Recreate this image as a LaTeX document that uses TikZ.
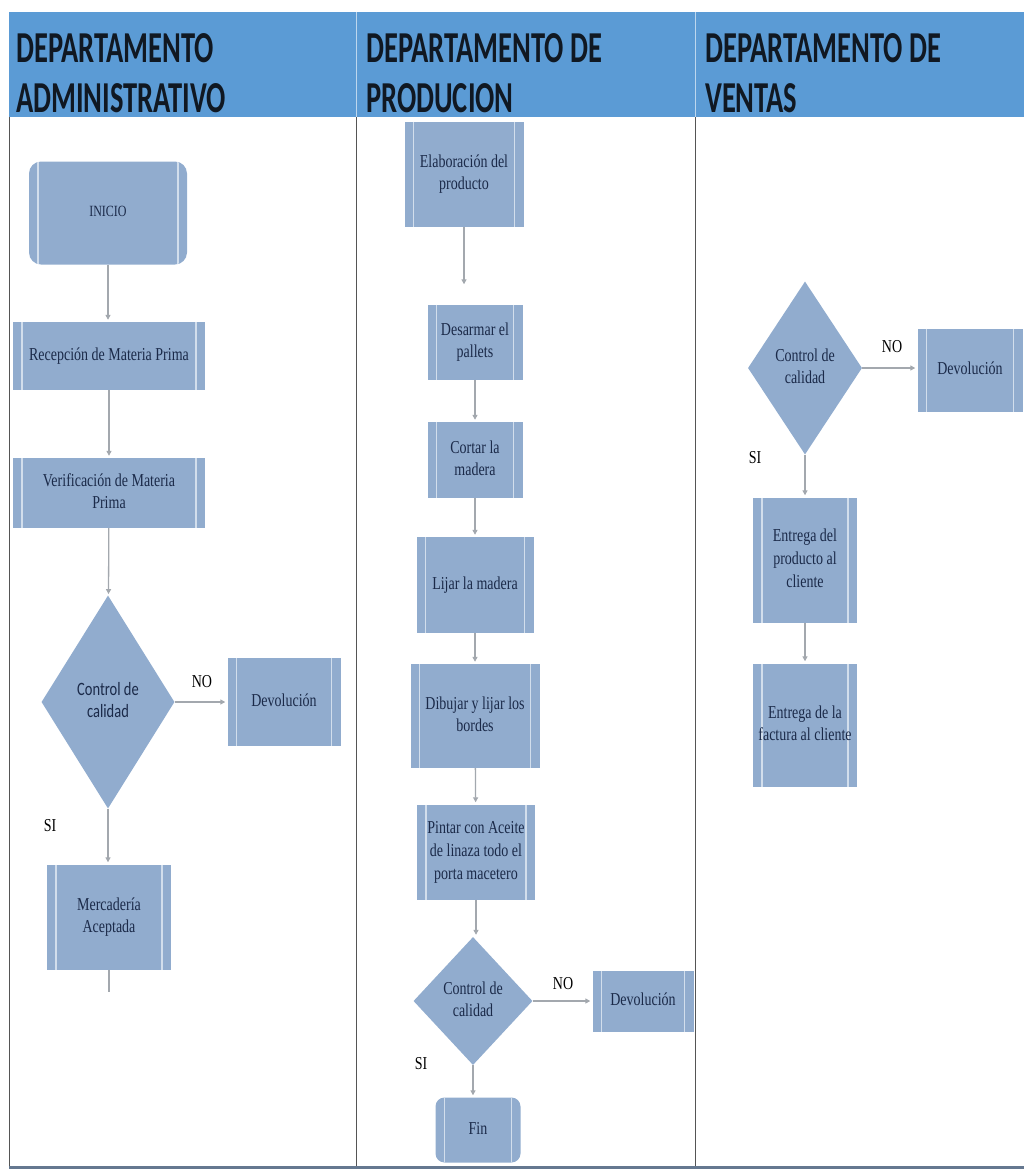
\documentclass[tikz,border=0pt]{standalone}
\usepackage{fontspec}
\setmainfont{Liberation Serif}
\newfontfamily\hdrfont{Carlito}
\usetikzlibrary{shapes.geometric, arrows.meta}
\definecolor{hdrblue}{HTML}{5B9BD5}
\definecolor{boxblue}{HTML}{91ACCE}
\definecolor{boxline}{HTML}{D2DEEC}
\definecolor{txtnavy}{HTML}{1B2A49}
\definecolor{arrgray}{HTML}{A3A8AE}
\definecolor{lanegray}{HTML}{555555}
\definecolor{hdrtext}{HTML}{101822}
\newcommand{\stretched}[3][c]{\scalebox{1}[#2]{\begin{tabular}{@{}#1@{}}#3\end{tabular}}}

\begin{document}
\begin{tikzpicture}[x=1pt, y=-1pt,
		pr/.style = {rectangle, fill=boxblue, inner sep=0pt, text=txtnavy, font=\fontsize{14}{17.5}\selectfont,
			path picture={
				\draw[boxline, line width=1.5pt] ([xshift=9pt]path picture bounding box.north west) -- ([xshift=9pt]path picture bounding box.south west);
				\draw[boxline, line width=1.5pt] ([xshift=-9pt]path picture bounding box.north east) -- ([xshift=-9pt]path picture bounding box.south east);}},
		te/.style = {pr, rounded corners=12pt},
		de/.style = {diamond, fill=boxblue, inner sep=0pt, text=txtnavy, font=\fontsize{14}{17.5}\selectfont},
		lab/.style = {inner sep=0pt, text=black, font=\fontsize{14}{17}\selectfont},
		hd/.style = {anchor=base west, inner sep=0pt, text=hdrtext, font=\hdrfont\bfseries\fontsize{28.5}{31}\selectfont},
		r/.style = {-{Triangle[width=5pt,length=5pt]}, arrgray, line width=1.3pt, shorten >=2pt},
		]
		\useasboundingbox (0,0) rectangle (1024,1176);
		
		%Header and lanes
		\fill[hdrblue] (9,12) rectangle (1024,117);
		\draw[white!60!hdrblue, line width=1pt] (356,12) -- (356,117) (695,12) -- (695,117);
		\draw[lanegray, line width=1pt] (9,117) -- (9,1166) (356,117) -- (356,1166) (695,117) -- (695,1166);
		\draw[line width=3pt, color=black!30!boxblue] (9,1167) -- (1024,1167);
		\node[hd]	(h1a)	at	(16, 62)	{\scalebox{1}[1.55]{DEPARTAMENTO}};
		\node[hd]	(h1b)	at	(16, 112)	{\scalebox{1}[1.55]{ADMINISTRATIVO}};
		\node[hd]	(h2a)	at	(366, 62)	{\scalebox{1}[1.55]{DEPARTAMENTO DE}};
		\node[hd]	(h2b)	at	(366, 112)	{\scalebox{1}[1.55]{PRODUCION}};
		\node[hd]	(h3a)	at	(705, 62)	{\scalebox{1}[1.55]{DEPARTAMENTO DE}};
		\node[hd]	(h3b)	at	(705, 112)	{\scalebox{1}[1.55]{VENTAS}};
		
		%Nodes administrativo
		\node[te, minimum width=158, minimum height=103, font=\fontsize{12}{14}\selectfont]	(inicio)	at	(108, 213)	{\stretched{1.3}{INICIO}};
		\node[pr, minimum width=192, minimum height=68]	(recep)	at	(109, 356)	{\stretched{1.3}{Recepción de Materia Prima}};
		\node[pr, minimum width=192, minimum height=70]	(verif)	at	(109, 493)	{\stretched{1.3}{Verificación de Materia\\Prima}};
		\node[de, minimum width=133, minimum height=213, font=\hdrfont\fontsize{14.5}{17.5}\selectfont]	(ctrl1)	at	(108, 702)	{\stretched{1.3}{Control de\\calidad}};
		\node[pr, minimum width=113, minimum height=88]	(dev1)	at	(284, 702)	{\stretched{1.3}{Devolución}};
		\node[pr, minimum width=124, minimum height=105]	(merc)	at	(109, 917)	{\stretched{1.3}{Mercadería\\Aceptada}};
		\coordinate	(tail)	at	(109, 992);
		\node[lab]	(no1)	at	(202, 683)	{\stretched{1.3}{NO}};
		\node[lab]	(si1)	at	(50, 827)	{\stretched{1.3}{SI}};
		
		%Nodes produccion
		\node[pr, minimum width=119, minimum height=105]	(elab)	at	(464, 174)	{\stretched{1.3}{Elaboración del\\producto}};
		\node[pr, minimum width=95, minimum height=75]	(desarm)	at	(475, 342)	{\stretched{1.3}{Desarmar el\\pallets}};
		\node[pr, minimum width=95, minimum height=76]	(cortar)	at	(475, 460)	{\stretched{1.3}{Cortar la\\madera}};
		\node[pr, minimum width=117, minimum height=96]	(lijar)	at	(475, 585)	{\stretched{1.3}{Lijar la madera}};
		\node[pr, minimum width=129, minimum height=104]	(dibujar)	at	(475, 716)	{\stretched{1.3}{Dibujar y lijar los\\bordes}};
		\node[pr, minimum width=118, minimum height=95]	(pintar)	at	(476, 852)	{\stretched{1.3}{Pintar con Aceite\\de linaza todo el\\porta macetero}};
		\node[de, minimum width=119, minimum height=128]	(ctrl2)	at	(473, 1001)	{\stretched{1.3}{Control de\\calidad}};
		\node[pr, minimum width=101, minimum height=61]	(dev2)	at	(643, 1001)	{\stretched{1.3}{Devolución}};
		\node[te, minimum width=85, minimum height=65, rounded corners=9pt]	(fin)	at	(478, 1130)	{\stretched{1.3}{Fin}};
		\node[lab]	(no2)	at	(563, 985)	{\stretched{1.3}{NO}};
		\node[lab]	(si2)	at	(421, 1065)	{\stretched{1.3}{SI}};
		
		%Nodes ventas
		\node[de, minimum width=114, minimum height=173]	(ctrl3)	at	(805, 368)	{\stretched{1.3}{Control de\\calidad}};
		\node[pr, minimum width=105, minimum height=83]	(dev3)	at	(970, 370)	{\stretched{1.3}{Devolución}};
		\node[pr, minimum width=104, minimum height=125]	(entrega)	at	(805, 560)	{\stretched{1.3}{Entrega del\\producto al\\cliente}};
		\node[pr, minimum width=104, minimum height=123]	(factura)	at	(805, 725)	{\stretched{1.3}{Entrega de la\\factura al cliente}};
		\node[lab]	(no3)	at	(892, 348)	{\stretched{1.3}{NO}};
		\node[lab]	(si3)	at	(755, 459)	{\stretched{1.3}{SI}};
		
		%Lines
		\draw[r]	(inicio)	--	(inicio |- recep.north);
		\draw[r]	(recep)	--	(recep |- verif.north);
		\draw[r]	(verif)	--	(ctrl1);
		\draw[r]	(ctrl1)	--	(dev1);
		\draw[r]	(ctrl1)	--	(ctrl1 |- merc.north);
		\draw[arrgray, line width=1.3pt]	(merc)	--	(tail);
		\draw[r, shorten >=20pt]	(elab)	--	(elab |- desarm.north);
		\draw[r]	(desarm)	--	(cortar);
		\draw[r]	(cortar)	--	(lijar);
		\draw[r]	(lijar)	--	(dibujar);
		\draw[r]	(dibujar)	--	(pintar);
		\draw[r]	(pintar)	--	(pintar |- ctrl2.north);
		\draw[r]	(ctrl2)	--	(dev2);
		\draw[r]	(ctrl2)	--	(ctrl2 |- fin.north);
		\draw[r]	(ctrl3)	--	(ctrl3 -| dev3.west);
		\draw[r]	(ctrl3)	--	(entrega);
		\draw[r]	(entrega)	--	(factura);
		
	\end{tikzpicture}
\end{document}
